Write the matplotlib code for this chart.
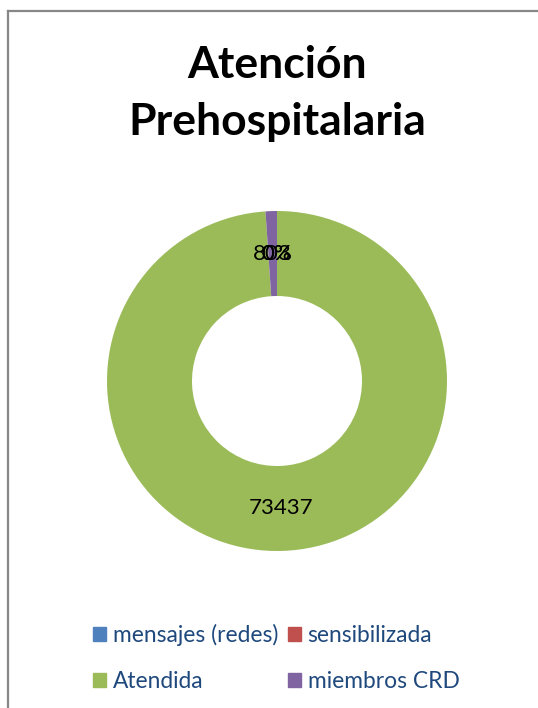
import numpy as np
import matplotlib.pyplot as plt
from matplotlib.lines import Line2D

# Datos del grafico
categorias = ["mensajes (redes)", "sensibilizada", "Atendida", "miembros CRD"]
valores = [0, 0, 73437, 803]
etiquetas = ["0%", "0%", "73437", "803"]
colores = ["#4F81BD", "#C0504D", "#9BBB59", "#8064A2"]

plt.rcParams["font.family"] = ["Lato", "DejaVu Sans"]

W, H = 538, 708
fig = plt.figure(figsize=(W / 100, H / 100), dpi=100)

# marco gris (solo se ven los bordes superior e izquierdo)
fig.add_artist(Line2D([8 / W, 1], [1 - 11 / H, 1 - 11 / H], color="#878787", lw=1.6, transform=fig.transFigure))
fig.add_artist(Line2D([8 / W, 8 / W], [1 - 11 / H, 0], color="#878787", lw=1.6, transform=fig.transFigure))

# titulo
fig.text(277 / W, 1 - 78 / H, "Atención", ha="center", va="baseline", fontsize=32, fontweight="bold")
fig.text(277 / W, 1 - 135 / H, "Prehospitalaria", ha="center", va="baseline", fontsize=32, fontweight="bold")

# dona
cx, cy, r = 277, 381, 170
ax = fig.add_axes([(cx - r) / W, 1 - (cy + r) / H, 2 * r / W, 2 * r / H])
wedges, _ = ax.pie(valores, colors=colores, startangle=90, counterclock=False,
                   radius=1, wedgeprops=dict(width=0.5, edgecolor="none"))
ax.set_xlim(-1, 1)
ax.set_ylim(-1, 1)
ax.set_aspect("equal")
ax.axis("off")

for w, txt in zip(wedges, etiquetas):
    ang = np.deg2rad((w.theta1 + w.theta2) / 2)
    ax.text(0.75 * np.cos(ang), 0.75 * np.sin(ang), txt, ha="center", va="center",
            fontsize=16, color="black")

# leyenda (matplotlib llena por columnas, se reordena para que quede por filas)
handles = [plt.Rectangle((0, 0), 1, 1, color=c) for c in colores]
orden = [0, 2, 1, 3]
leg = fig.legend([handles[i] for i in orden], [categorias[i] for i in orden], ncol=2,
                 loc="upper left", bbox_to_anchor=(93 / W, 1 - 624 / H), frameon=False,
                 fontsize=16.4, handlelength=0.57, handleheight=0.57,
                 handletextpad=0.31, columnspacing=0.4, labelspacing=1.1,
                 borderaxespad=0, borderpad=0)
for t in leg.get_texts():
    t.set_color("#1F497D")

fig.savefig("out.png", dpi=100)
